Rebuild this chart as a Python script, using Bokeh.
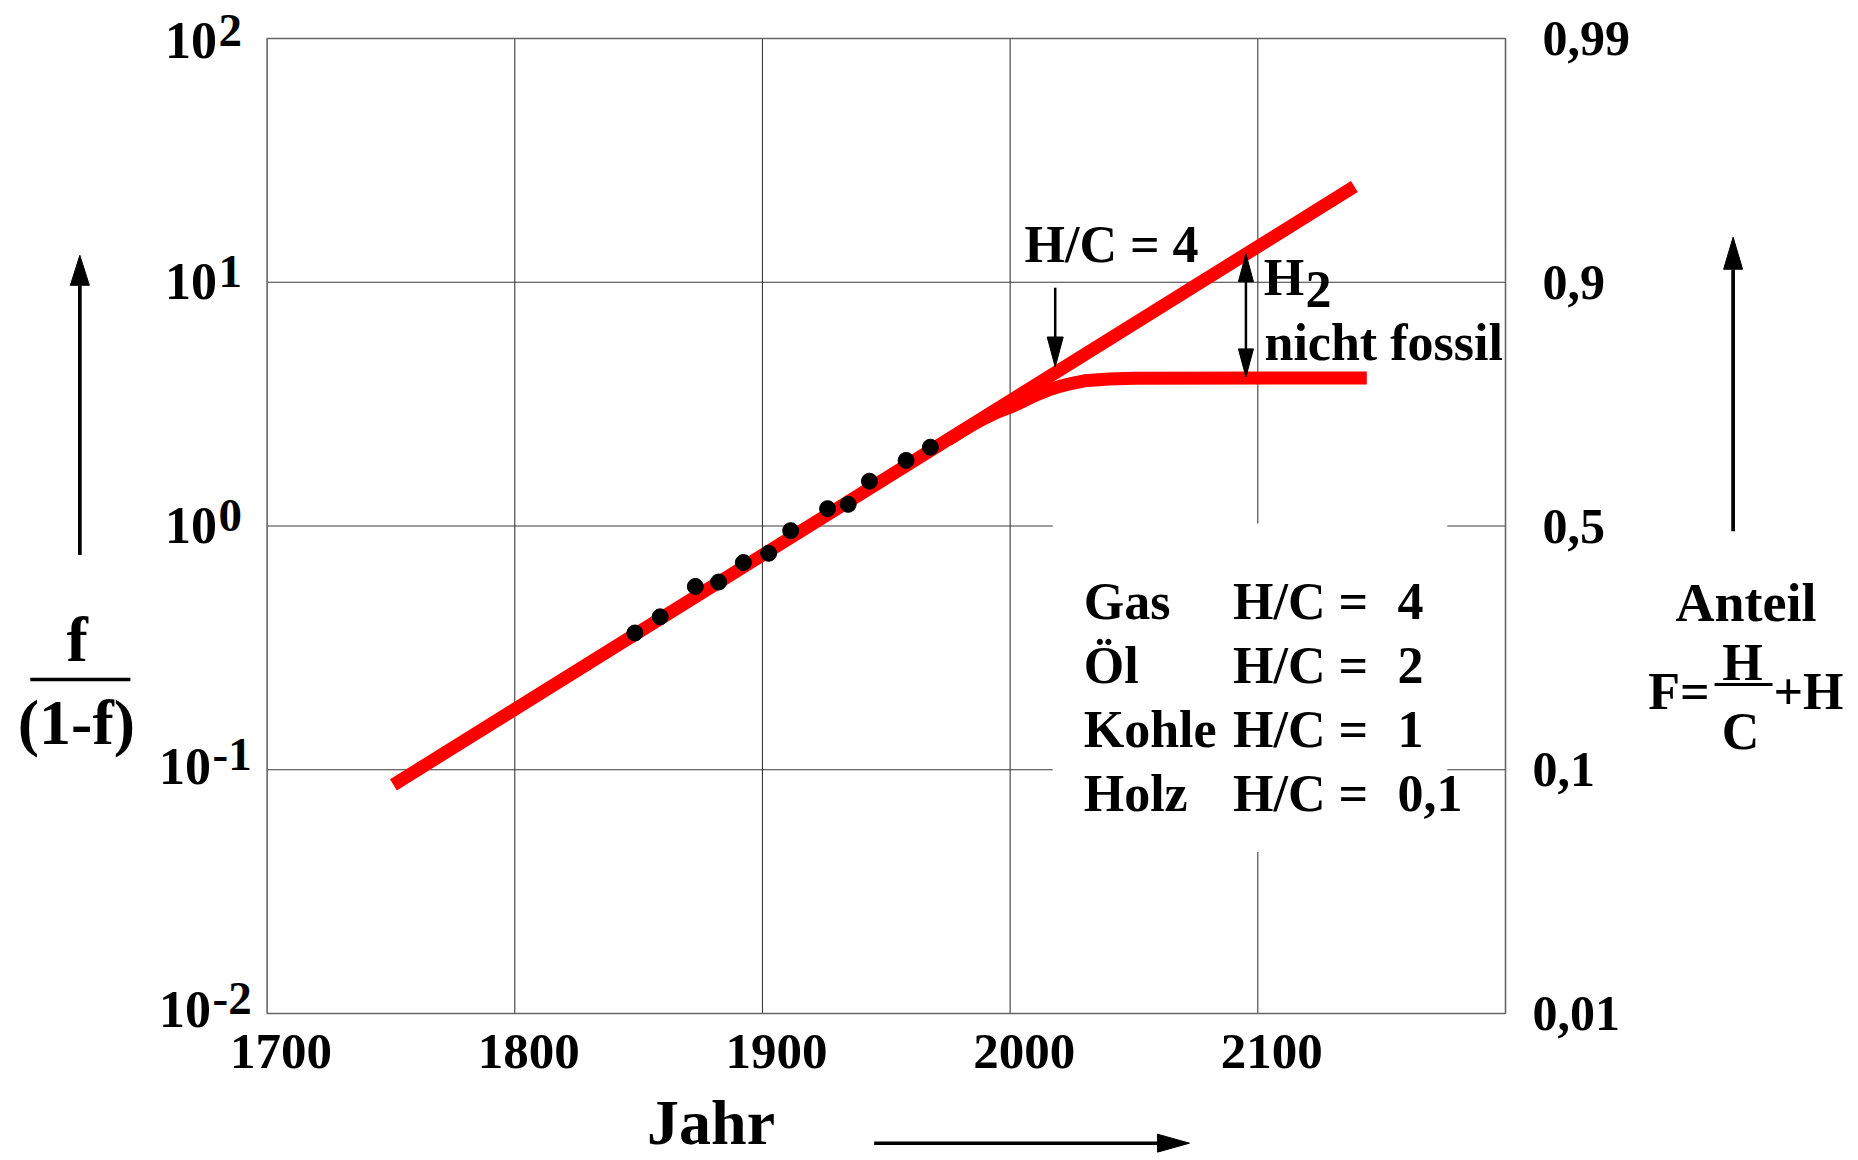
from bokeh.plotting import figure
from bokeh.models import Range1d
from bokeh.core.properties import value
from bokeh.embed import file_html
from bokeh.resources import INLINE

# ---------------- data ----------------
years_obs = [1848.5, 1858.7, 1872.9, 1882.3, 1892.3, 1902.5, 1911.4, 1926.3, 1934.6, 1943.2, 1958.0, 1967.8]
ratio_obs = [0.364, 0.424, 0.565, 0.589, 0.708, 0.773, 0.957, 1.178, 1.227, 1.527, 1.858, 2.105]

years_trend = [1751, 2139]
ratio_trend = [0.0867, 24.7]

years_branch = [1975, 1980, 1985, 1990, 1995, 2000, 2005, 2010, 2015, 2020, 2025, 2030, 2040, 2050, 2144]
ratio_branch = [2.26, 2.43, 2.61, 2.78, 2.94, 3.07, 3.24, 3.43, 3.60, 3.74, 3.85, 3.94, 4.01, 4.04, 4.05]

x_ticks = [1700, 1800, 1900, 2000, 2100]
x_tick_labels = ["1700", "1800", "1900", "2000", "2100"]
y_ticks = [100, 10, 1, 0.1, 0.01]
y_tick_exponents = ["2", "1", "0", "-1", "-2"]
y2_tick_labels = ["0,99", "0,9", "0,5", "0,1", "0,01"]

fuels = ["Gas", "Öl", "Kohle", "Holz"]
hc_ratio = ["4", "2", "1", "0,1"]

# ---------------- layout ----------------
W, H = 1858, 1160
BOX_LEFT, BOX_TOP = 266.6, 38.0      # canvas px of the plot box
BOX_W, BOX_H = 1238.4, 975.0
X0, X1 = 1700, 2200
D0, D1 = -2, 2
xpp = (X1 - X0) / BOX_W              # years per pixel
dpp = (D1 - D0) / BOX_H              # decades per pixel
x_start = X0 - BOX_LEFT * xpp
x_end = x_start + W * xpp
y_end = 10 ** (D1 + BOX_TOP * dpp)
y_start = 10 ** (D1 - (H - BOX_TOP) * dpp)

p = figure(width=W, height=H,
           x_range=Range1d(x_start, x_end), y_range=Range1d(y_start, y_end),
           y_axis_type="log", x_axis_location=None, y_axis_location=None,
           output_backend="svg", toolbar_location=None, min_border=0,
           background_fill_color="white", border_fill_color="white")
p.outline_line_color = None
p.grid.visible = False

SERIF = value("Liberation Serif")
GRID = "#3a3a3a"
BL = 0.34   # baseline correction (fraction of the font size)


def txt(x, y, t, size, align="left", dx=0, dy=0):
    p.text(x=[x], y=[y], text=[t], text_font=SERIF, text_font_style="bold",
           text_font_size=f"{size}px", text_align=align, text_baseline="alphabetic",
           x_offset=dx, y_offset=dy - BL * size, text_color="black")


def _lg(v):
    import math
    return math.log10(v)


def arrow_v(x, y_from, y_tip, lw, L, Wd, both=False):
    """vertical arrow, head of L px length and Wd px width at y_tip"""
    s = 1 if y_tip > y_from else -1
    t, f = _lg(y_tip), _lg(y_from)
    b_tip = 10 ** (t - s * L * dpp)
    b_from = 10 ** (f + s * L * dpp)
    half = Wd / 2 * xpp
    p.segment(x0=[x], y0=[b_from if both else y_from], x1=[x], y1=[b_tip],
              line_color="black", line_width=lw)
    xs = [[x - half, x + half, x]]
    ys = [[b_tip, b_tip, y_tip]]
    if both:
        xs.append([x - half, x + half, x])
        ys.append([b_from, b_from, y_from])
    p.patches(xs, ys, fill_color="black", line_color="black", line_width=1)


def arrow_h(x_from, x_tip, y, lw, L, Wd):
    s = 1 if x_tip > x_from else -1
    base = x_tip - s * L * xpp
    lo, hi = 10 ** (_lg(y) - Wd / 2 * dpp), 10 ** (_lg(y) + Wd / 2 * dpp)
    p.segment(x0=[x_from], y0=[y], x1=[base], y1=[y], line_color="black", line_width=lw)
    p.patches([[base, base, x_tip]], [[lo, hi, y]], fill_color="black",
              line_color="black", line_width=1)


# grid lines inside the box
vx = x_ticks[1:]
p.segment(x0=vx, y0=[10.0 ** D0] * len(vx), x1=vx, y1=[10.0 ** D1] * len(vx),
          line_color=GRID, line_width=1.1)
hy = y_ticks[1:-1]
p.segment(x0=[X0] * len(hy), y0=hy, x1=[X1] * len(hy), y1=hy,
          line_color=GRID, line_width=1.1)
# box outline
p.quad(left=[X0], right=[X1], bottom=[10.0 ** D0], top=[10.0 ** D1],
       fill_color=None, line_color="#666666", line_width=1.6)

# white panel behind the legend text
p.quad(left=[2017.2], right=[2176.5], bottom=[0.046], top=[1.025],
       fill_color="white", line_color=None)

# red curves
p.line(years_trend, ratio_trend, line_color="#ff0000", line_width=13, line_cap="butt")
p.line(years_branch, ratio_branch, line_color="#ff0000", line_width=13,
       line_cap="butt", line_join="round")

# observed points
p.scatter(years_obs, ratio_obs, size=16, color="black")

# ---------------- tick labels ----------------
for xv, lab in zip(x_ticks, x_tick_labels):
    txt(xv, 10.0 ** D0, lab, 51, align="center", dx=14, dy=55)

for yv, e in zip(y_ticks, y_tick_exponents):
    neg = e.startswith("-")
    top = 3 if yv == 10.0 ** D1 else 0          # keep the top label inside the page
    txt(X0, yv, "10", 52, align="right", dx=-56 if neg else -50, dy=(14 if neg else 17) + top)
    txt(X0, yv, e, 47, align="left", dx=-54.5 if neg else -48.6, dy=(1 if neg else 5) + top)

for yv, lab in zip(y_ticks, y2_tick_labels):
    txt(X1, yv, lab, 50, align="left", dx=37 if yv >= 1 else 27, dy=17)

# ---------------- annotations ----------------
txt(2005.8, 12.09, "H/C = 4", 52)
arrow_v(2018.2, 9.5, 4.49, 2.5, 30, 16)

arrow_v(2095.2, 4.09, 13.1, 2.5, 28, 15, both=True)
txt(2102.4, 8.82, "H", 52)
txt(2102.4, 8.82, "2", 52, dx=41.7, dy=11.7)
txt(2102.7, 4.81, "nicht fossil", 52)

legend_cols = [2029.7, 2090.0, 2156.4]
for i, (fuel, hc) in enumerate(zip(fuels, hc_ratio)):
    dy = 93.5 + 64 * i
    txt(legend_cols[0], 1.0, fuel, 52, dy=dy)
    txt(legend_cols[1], 1.0, "H/C =", 52, dy=dy)
    txt(legend_cols[2], 1.0, hc, 52, dy=dy)

# x axis title
txt(1853.4, 10.0 ** D0, "Jahr", 64, dy=131)
arrow_h(1945.1, 2072.4, 0.002938, 3.5, 32, 18)

# left axis title  f / (1-f)
arrow_v(1624.4, 0.761, 12.9, 3.7, 30, 19)
txt(1623.3, 0.278, "f", 64, align="center")
p.segment(x0=[1604.4], y0=[0.2346], x1=[1644.8], y1=[0.2346], line_color="black", line_width=3.5)
txt(1623.0, 0.1269, "(1-f)", 64, align="center")

# right axis title
arrow_v(2291.9, 0.951, 15.3, 3.7, 32, 19)
txt(2297.1, 0.4057, "Anteil", 54, align="center")
txt(2282.4, 0.1767, "F=", 52, align="right")
txt(2308.2, 0.1767, "+H", 52, align="left")
p.segment(x0=[2284.4], y0=[0.2237], x1=[2307.8], y1=[0.2237], line_color="black", line_width=3)
txt(2295.7, 0.2330, "H", 52, align="center")
txt(2294.9, 0.121, "C", 52, align="center")

open("out.html", "w").write(file_html(p, INLINE))
